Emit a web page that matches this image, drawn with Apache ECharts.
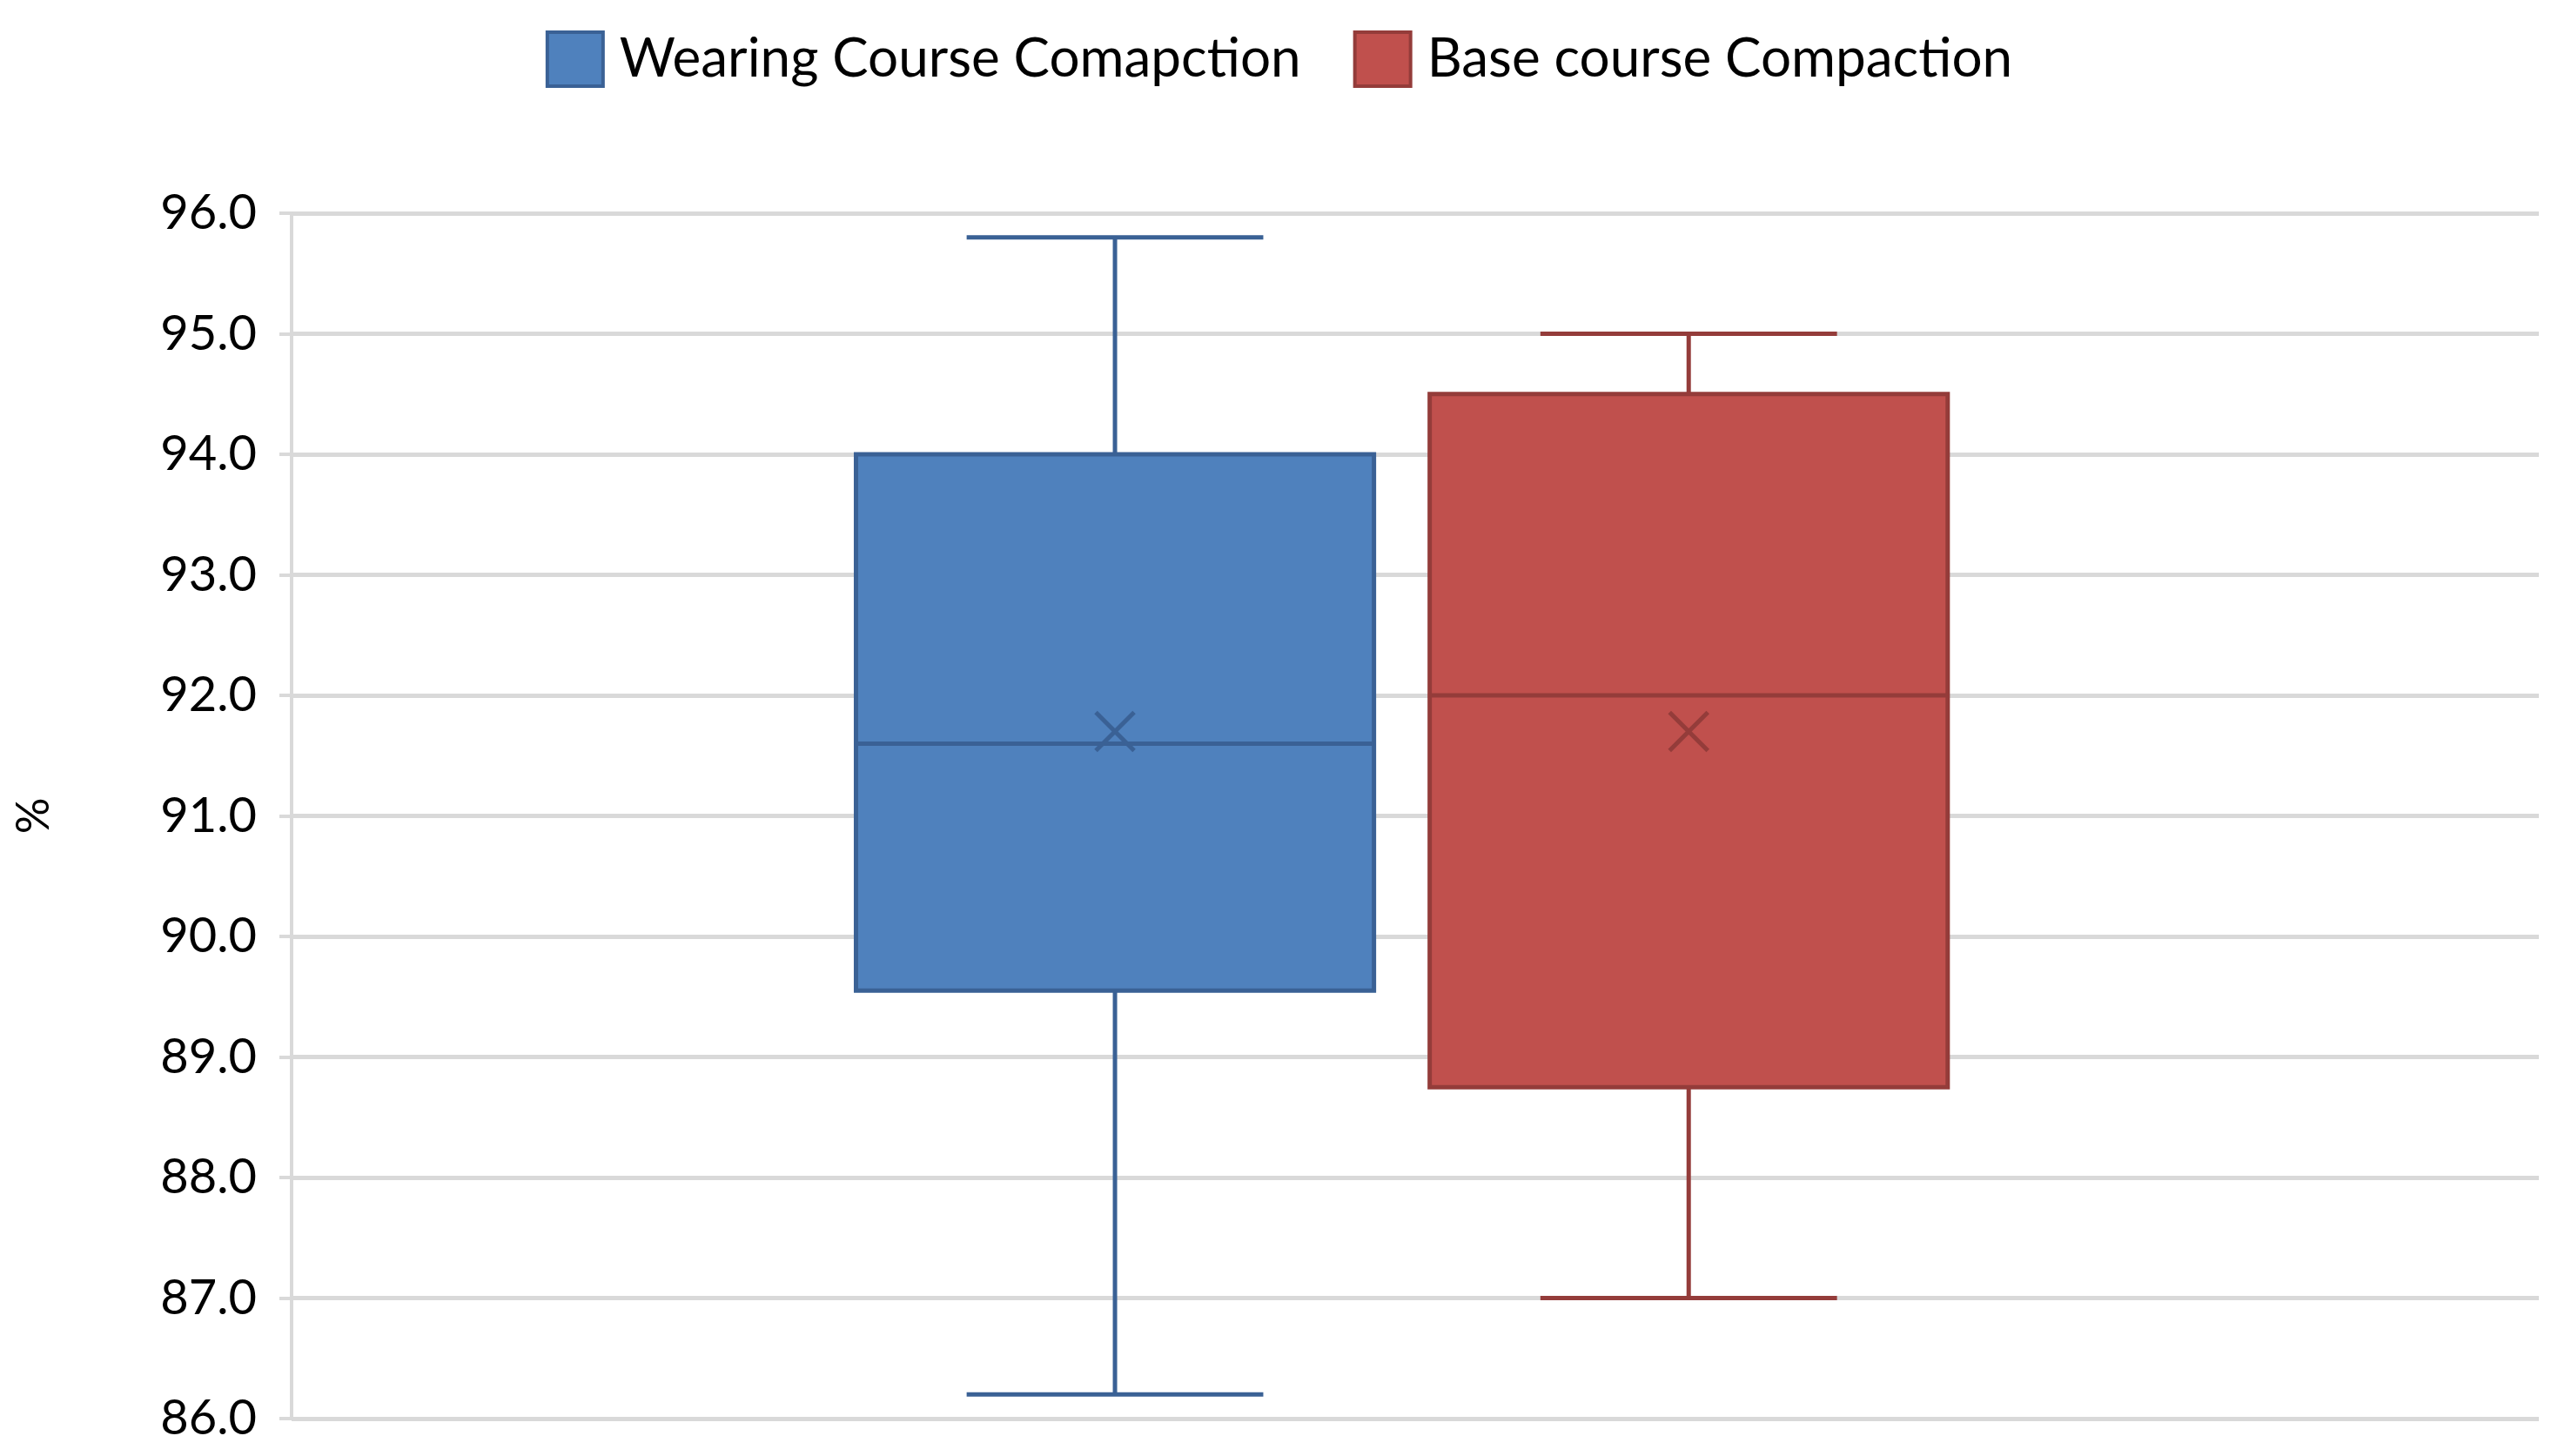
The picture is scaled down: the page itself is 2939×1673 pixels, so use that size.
<!DOCTYPE html>
<html><head><meta charset="utf-8">
<script src="https://cdn.jsdelivr.net/npm/echarts@6/dist/echarts.min.js"></script>
<style>html,body{margin:0;padding:0;background:#fff}#c{width:2939px;height:1673px}</style>
</head><body><div id="c"></div>
<script>
const categories = ['Compaction'];
const seriesNames = ['Wearing Course Comapction', 'Base course Compaction'];
// [min, Q1, median, Q3, max, mean]
const wearingStats = [86.2, 89.55, 91.6, 94.0, 95.8, 91.7];
const baseStats = [87.0, 88.75, 92.0, 94.5, 95.0, 91.7];
const yTicks = [86, 87, 88, 89, 90, 91, 92, 93, 94, 95, 96];

const fills = ['#4F81BD', '#C0504D'];
const strokes = ['#3A6195', '#943C3A'];
const offsets = [-0.1336, 0.1217];
const boxFrac = 0.2305, capFrac = 0.066;

function makeSeries(idx, stats) {
  return {
    name: seriesNames[idx], type: 'custom',
    itemStyle: { color: fills[idx], borderColor: strokes[idx] },
    data: [[0].concat(stats)],
    encode: { x: 0, y: [1, 2, 3, 4, 5, 6] },
    renderItem: function (params, api) {
      const band = api.size([1, 0])[0];
      const cx = api.coord([api.value(0), 0])[0] + offsets[idx] * band;
      const y = k => api.coord([0, api.value(k)])[1];
      const yMin = y(1), yQ1 = y(2), yMed = y(3), yQ3 = y(4), yMax = y(5), yMean = y(6);
      const bw = boxFrac * band, cw = capFrac * band, m = 22;
      const ls = { stroke: strokes[idx], lineWidth: 5 };
      return { type: 'group', children: [
        { type: 'line', shape: { x1: cx, y1: yMax, x2: cx, y2: yQ3 }, style: ls },
        { type: 'line', shape: { x1: cx, y1: yQ1, x2: cx, y2: yMin }, style: ls },
        { type: 'line', shape: { x1: cx - cw, y1: yMax, x2: cx + cw, y2: yMax }, style: ls },
        { type: 'line', shape: { x1: cx - cw, y1: yMin, x2: cx + cw, y2: yMin }, style: ls },
        { type: 'rect', shape: { x: cx - bw / 2, y: yQ3, width: bw, height: yQ1 - yQ3 }, style: { fill: fills[idx], stroke: strokes[idx], lineWidth: 5 } },
        { type: 'line', shape: { x1: cx - bw / 2, y1: yMed, x2: cx + bw / 2, y2: yMed }, style: ls },
        { type: 'line', shape: { x1: cx - m, y1: yMean - m, x2: cx + m, y2: yMean + m }, style: ls },
        { type: 'line', shape: { x1: cx - m, y1: yMean + m, x2: cx + m, y2: yMean - m }, style: ls }
      ]};
    }
  };
}

const chart = echarts.init(document.getElementById('c'));
chart.setOption({
  backgroundColor: '#fff',
  animation: false,
  textStyle: { fontFamily: 'Lato, "Open Sans", sans-serif' },
  legend: {
    top: 30, left: 'center', itemWidth: 64, itemHeight: 62, itemGap: 60,
    icon: 'rect',
    textStyle: { fontSize: 62, color: '#000', fontFamily: 'Lato', padding: [0, 0, 0, 14] },
    data: seriesNames.map((n, i) => ({ name: n, itemStyle: { color: fills[i], borderColor: strokes[i], borderWidth: 4 } }))
  },
  grid: { left: 335, right: 22, top: 245, bottom: 43 },
  xAxis: { type: 'category', data: categories, axisLabel: { show: false }, axisTick: { show: false },
    axisLine: { show: false } },
  yAxis: {
    type: 'value', min: 86, max: 96, interval: 1,
    name: '%', nameLocation: 'middle', nameGap: 270, nameRotate: 90,
    nameTextStyle: { fontSize: 52, color: '#000', fontFamily: 'Lato' },
    axisLabel: { fontSize: 56, color: '#000', margin: 40, fontFamily: 'Lato',
      formatter: v => yTicks.includes(v) ? v.toFixed(1) : '' },
    axisLine: { show: true, lineStyle: { color: '#D9D9D9', width: 4 } },
    axisTick: { show: true, length: 14, inside: false, lineStyle: { color: '#D9D9D9', width: 4 } },
    splitLine: { lineStyle: { color: '#D9D9D9', width: 5 } }
  },
  series: [makeSeries(0, wearingStats), makeSeries(1, baseStats)]
});
</script></body></html>
